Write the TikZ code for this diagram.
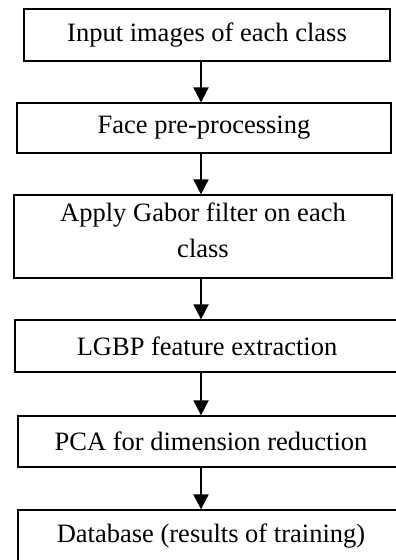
\documentclass[tikz,border=0pt]{standalone}
\usepackage{fontspec}
\setmainfont{Liberation Serif}
\usetikzlibrary{arrows.meta,positioning}

\begin{document}
\begin{tikzpicture}[x=1pt,y=-1pt,% pixel-like coordinates, y going down
        stage/.style={draw,line width=1.3pt,inner sep=0pt,align=center,font=\fontsize{26.5}{36}\selectfont},% one box per step
        flow/.style={-{Triangle[width=15pt,length=15pt]},line width=2pt}]
\useasboundingbox (0,0) rectangle (396,560);
\node[stage,minimum width=366pt,minimum height=52pt] (input) at (207,35) {Input images of each class};
\node[stage,minimum width=374pt,minimum height=50pt] (prep) at (204,128) {Face pre-processing};
\node[stage,minimum width=378pt,minimum height=83pt,text depth=12pt] (gabor) at (203,236.5) {Apply Gabor filter on each\\class}; % text sits a little high in this box
\node[stage,minimum width=384pt,minimum height=52pt] (lgbp) at (207,346) {LGBP feature extraction};
\node[stage,minimum width=386pt,minimum height=51pt] (pca) at (211,441.5) {PCA for dimension reduction};
\node[stage,minimum width=386pt,minimum height=52pt] (db) at (211,536) {Database (results of training)};
\coordinate (axis) at (201,0); % all arrows share this x
\foreach \a/\b in {input/prep,prep/gabor,gabor/lgbp,lgbp/pca,pca/db}{ %\a is the upper box, \b the lower one
\draw[flow] (\a.south -| axis) -- (\b.north -| axis);
}
\end{tikzpicture}
\end{document}
